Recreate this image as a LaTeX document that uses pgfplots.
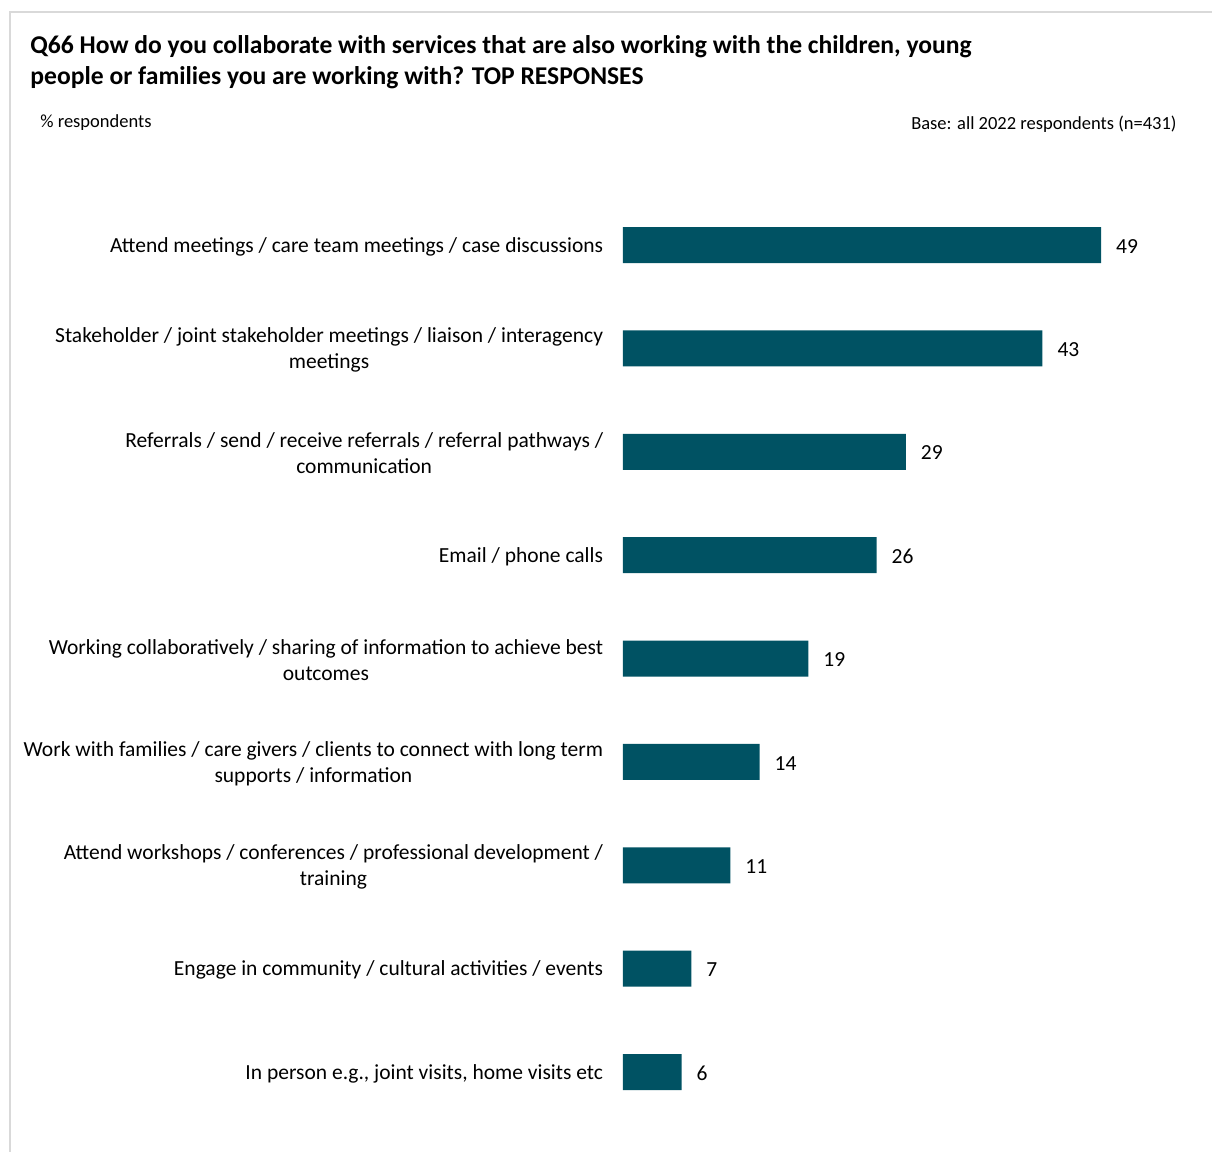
\documentclass[border=0pt]{standalone}
\usepackage{fontspec}
\setmainfont{Carlito}
\usepackage{pgfplots}
\pgfplotsset{compat=1.18}
\definecolor{barc}{RGB}{0,82,99}
\definecolor{framec}{RGB}{217,217,217}
\begin{document}
\begin{tikzpicture}
\useasboundingbox (0,0) rectangle (606pt,-576pt);
\draw[framec, line width=1pt] (5pt,-576pt) -- (5pt,-6pt) -- (606pt,-6pt);
\node[anchor=base west, inner sep=0pt, font=\bfseries\fontsize{12.8}{15}\selectfont] at (15pt,-26.5pt) {Q66 How do you collaborate with services that are also working with the children, young};
\node[anchor=base west, inner sep=0pt, font=\bfseries\fontsize{12.8}{15}\selectfont] at (15pt,-42pt) {people or families you are working with? TOP RESPONSES};
\node[anchor=base west, inner sep=0pt, font=\fontsize{9.25}{11}\selectfont] at (20pt,-63.5pt) {\% respondents};
\node[anchor=base east, inner sep=0pt, font=\fontsize{9.25}{11}\selectfont] at (588.5pt,-64.5pt) {Base: all 2022 respondents (n=431)};
\begin{axis}[
  at={(311.5pt,-96.65pt)}, anchor=north west,
  scale only axis, width=243.9pt, height=465.2pt,
  xmin=0, xmax=50, ymin=-0.5, ymax=8.5, y dir=reverse,
  hide x axis,
  y axis line style={draw=none},
  ytick=data, ytick style={draw=none},
  yticklabels={
    {Attend meetings / care team meetings / case discussions},
    {Stakeholder / joint stakeholder meetings / liaison / interagency\\meetings},
    {Referrals / send / receive referrals / referral pathways /\\communication},
    {Email / phone calls},
    {Working collaboratively / sharing of information to achieve best\\outcomes},
    {Work with families / care givers / clients to connect with long term\\supports / information},
    {Attend workshops / conferences / professional development /\\training},
    {Engage in community / cultural activities / events},
    {In person e.g., joint visits, home visits etc}},
  yticklabel style={align=center, font=\fontsize{10.75}{13}\selectfont, inner sep=0pt, xshift=-5.5pt, yshift=-0.8pt},
  xbar, bar width=18pt,
  nodes near coords,
  nodes near coords style={anchor=west, xshift=4pt, yshift=-0.6pt, font=\fontsize{10.75}{13}\selectfont, text=black},
  /pgf/number format/assume math mode=true,
  clip=false,
]
\addplot[fill=barc, draw=none] coordinates {(49,0) (43,1) (29,2) (26,3) (19,4) (14,5) (11,6) (7,7) (6,8)};
\end{axis}
\end{tikzpicture}
\end{document}
